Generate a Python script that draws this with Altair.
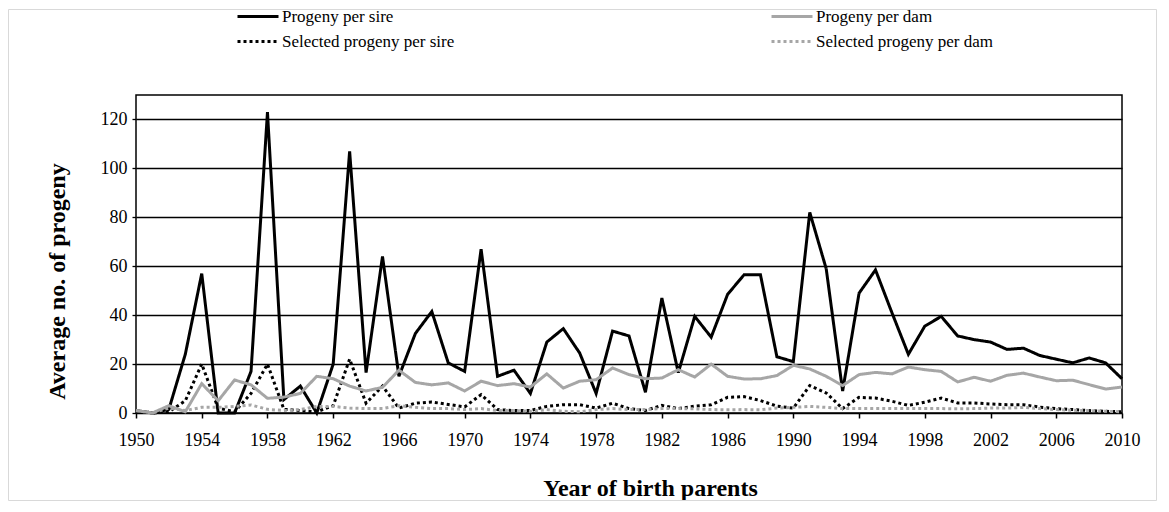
import altair as alt
import pandas as pd

years = list(range(1950, 2011))

sire = [1, 0, 1.5, 24, 57, 0, 0, 17, 123, 5.5,
        11, 0, 20, 107, 16.5, 64, 15, 32.5, 41.5, 20.5,
        17, 67, 15, 17.5, 8, 29, 34.5, 24.5, 8, 33.5,
        31.5, 8.5, 47, 16.5, 39.5, 31, 48.5, 56.5, 56.5, 23,
        21, 82, 59, 9, 49, 58.5, 41, 24, 35.5, 39.5,
        31.5, 30, 29, 26, 26.5, 23.5, 22, 20.5, 22.5, 20.5,
        14]

dam = [1, 0, 3, 0.5, 12, 5, 13.5, 11.5, 6, 6.5,
       8, 15, 14, 11, 9, 10.5, 17.5, 12.5, 11.5, 12.3,
       9, 13, 11.2, 12, 10.6, 16, 10.2, 13, 13.6, 18.4,
       15.7, 14, 14.3, 17.7, 14.7, 20, 15, 13.9, 14, 15.3,
       19.5, 18, 15, 11.2, 15.7, 16.6, 16, 18.8, 17.7, 17,
       12.7, 14.6, 13, 15.4, 16.3, 14.7, 13.2, 13.4, 11.6, 9.8,
       10.6]

sel_sire = [1, 0, 0.5, 5, 20, 2, 0.5, 8, 20, 1.5,
            1, 0.5, 3, 22, 4, 11, 2, 4, 4.5, 3.5,
            2.5, 7.5, 1.4, 1, 1, 2.7, 3.4, 3.4, 2, 4,
            1.8, 1, 3.1, 1.8, 2.8, 3.4, 6.4, 6.7, 5.1, 2.8,
            2, 11.2, 8.2, 1.8, 6.4, 6.1, 4.8, 3.1, 4.4, 6.1,
            4.1, 4.1, 3.7, 3.4, 3.4, 2.4, 1.8, 1.4, 1, 0.7,
            0.5]

sel_dam = [1, 0, 2, 1, 2.3, 2.3, 2.7, 3.3, 1.5, 1,
           1.4, 2.7, 2.7, 2, 1.8, 1.8, 3, 2.3, 1.8, 1.8,
           1.4, 1.8, 1, 1, 0.7, 1.4, 0.7, 0.5, 1.4, 1.8,
           1.4, 1.4, 1.8, 1.8, 1.7, 1.4, 1.3, 1.4, 1.3, 2,
           2.3, 2.7, 2.3, 1.8, 1.8, 1.8, 1.8, 1.8, 1.8, 1.8,
           1.7, 1.8, 2, 2, 2.3, 1.8, 1.4, 1.1, 1, 0.7,
           0.5]

# legend is filled column by column: col 1 = sire series, col 2 = dam series
series_names = ["Progeny per sire", "Selected progeny per sire",
                "Progeny per dam", "Selected progeny per dam"]
series_values = [sire, sel_sire, dam, sel_dam]
series_colors = ["#000000", "#000000", "#A6A6A6", "#A6A6A6"]
series_dashes = [[1, 0], [3, 3], [1, 0], [3, 3]]

x_ticks = list(range(1950, 2011, 4))
y_ticks = [0, 20, 40, 60, 80, 100, 120]

rows = []
for name, vals in zip(series_names, series_values):
    for yr, v in zip(years, vals):
        rows.append({"year": yr, "value": v, "series": name})
df = pd.DataFrame(rows)

FONT = "Liberation Serif"
W, H = 986, 318

legend_kw = dict(
    orient="none", legendX=100, legendY=-87, columns=2, columnPadding=315,
    rowPadding=7, clipHeight=17, symbolType="stroke", symbolSize=1681,
    symbolStrokeWidth=3, labelFont=FONT, labelFontSize=17, labelColor="black",
    labelOffset=2, padding=0, labelLimit=400,
)

lines = alt.Chart(df).mark_line(strokeWidth=3, strokeCap="butt").encode(
    x=alt.X("year:Q",
            scale=alt.Scale(domain=[1950, 2010], nice=False, zero=False),
            axis=alt.Axis(values=x_ticks, format="d", title="Year of birth parents",
                          grid=False, domain=False, ticks=True, tickSize=5,
                          tickColor="black", tickWidth=1.5,
                          labelFont=FONT, labelFontSize=18, labelColor="black",
                          labelPadding=22, labelBaseline="middle",
                          labelFlush=False, labelOverlap=False,
                          titleFont=FONT, titleFontSize=24, titleFontWeight="bold",
                          titleColor="black", titleX=514, titleY=75,
                          titleBaseline="middle", titleAlign="center")),
    y=alt.Y("value:Q",
            scale=alt.Scale(domain=[0, 130], nice=False),
            axis=alt.Axis(values=y_ticks, title="Average no. of progeny",
                          grid=True, gridColor="black", gridWidth=1.3,
                          domain=False, ticks=True, tickSize=4,
                          tickColor="black", tickWidth=1.3,
                          labelFont=FONT, labelFontSize=18, labelColor="black",
                          labelPadding=5, labelFlush=False,
                          titleFont=FONT, titleFontSize=24, titleFontWeight="bold",
                          titleColor="black", titleX=-79, titleY=186,
                          titleAngle=270, titleBaseline="middle", titleAlign="center")),
    color=alt.Color("series:N",
                    scale=alt.Scale(domain=series_names, range=series_colors),
                    sort=series_names, title=None, legend=alt.Legend(**legend_kw)),
    strokeDash=alt.StrokeDash("series:N",
                              scale=alt.Scale(domain=series_names, range=series_dashes),
                              sort=series_names, title=None, legend=alt.Legend(**legend_kw)),
)

frame = alt.Chart(alt.Data(values=[{"f": 1}])).mark_rect(
    fill="white", fillOpacity=0, stroke="#D9D9D9", strokeWidth=1
).encode(
    x=alt.value(-127.5), x2=alt.value(1020.5),
    y=alt.value(-85.5), y2=alt.value(405.5),
)

chart = alt.layer(frame, lines).properties(
    width=W, height=H,
    autosize=alt.AutoSizeParams(type="none"),
    padding={"left": 128, "top": 87, "right": 35, "bottom": 89},
    background="white",
).configure_view(stroke="black", strokeWidth=1.5)

chart.save("out.html", embed_options={"renderer": "svg", "actions": False})
